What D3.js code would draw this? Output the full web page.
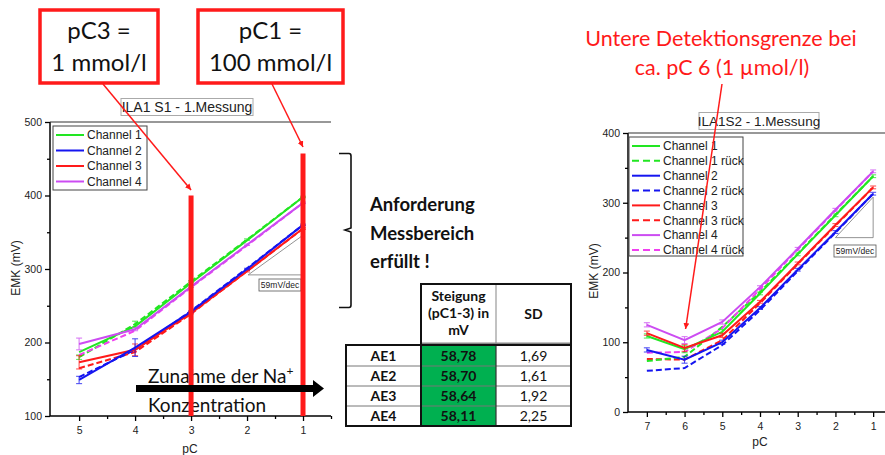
<!DOCTYPE html>
<html><head><meta charset="utf-8">
<script src="https://cdn.jsdelivr.net/npm/d3@7"></script>
<style>body{margin:0;background:#fff} svg{display:block}</style>
</head><body>
<script>
// ---------- Messung S1 (pC 5 .. 1) ----------
const s1PC = [5, 4, 3, 2, 1];
const s1Ch1  = [187, 222, 281, 339, 398];
const s1Ch1r = [180, 225, 283, 340, 398];
const s1Ch2  = [149, 193, 242, 300, 360];
const s1Ch2r = [153, 190, 243, 301, 360];
const s1Ch3  = [173, 190, 240, 297, 355];
const s1Ch3r = [165, 187, 239, 297, 355];
const s1Ch4  = [198, 218, 276, 333, 390];
const s1Ch4r = [183, 216, 275, 332, 390];
const s1Ch1Err = [3, 4, 1, 1, 1];
const s1Ch2Err = [5, 12, 1, 1, 1];
const s1Ch3Err = [9, 8, 1, 1, 1];
const s1Ch4Err = [8, 2, 1, 1, 1];
const s1XTicks = [5, 4, 3, 2, 1];
const s1YTicks = [100, 200, 300, 400, 500];

// ---------- Messung S2 (pC 7 .. 1) ----------
const s2PC = [7, 6, 5, 4, 3, 2, 1];
const s2Ch1  = [109, 90, 115, 170, 226, 282, 338];
const s2Ch1r = [73, 79, 122, 172, 227, 283, 338];
const s2Ch2  = [89, 75, 100, 149, 204, 258, 313];
const s2Ch2r = [59, 63, 96, 146, 202, 257, 313];
const s2Ch3  = [113, 92, 110, 158, 213, 268, 322];
const s2Ch3r = [76, 75, 103, 156, 212, 267, 322];
const s2Ch4  = [125, 103, 129, 179, 234, 290, 345];
const s2Ch4r = [85, 86, 120, 176, 233, 289, 345];
const s2Err = [3, 5, 3, 2, 2, 2, 2];
const s2XTicks = [7, 6, 5, 4, 3, 2, 1];
const s2YTicks = [0, 100, 200, 300, 400];

// ---------- Tabelle ----------
const tabRows = ["AE1", "AE2", "AE3", "AE4"];
const tabSlope = ["58,78", "58,70", "58,64", "58,11"];
const tabSD = ["1,69", "1,61", "1,92", "2,25"];

const ARIAL = "'Liberation Sans', Arial, sans-serif";
const CAL = "Lato, 'Open Sans', sans-serif";
const GREEN = "#22e622", BLUE = "#1515f0", RED = "#ff1a1a", VIO = "#cc4cf2", MAG = "#f040f0";

const svg = d3.select("body").append("svg").attr("width", 885).attr("height", 455)
  .style("background", "#fff");
svg.append("defs").append("marker").attr("id", "rarrow")
  .attr("viewBox", "0 0 10 10").attr("refX", 10).attr("refY", 5)
  .attr("markerWidth", 6).attr("markerHeight", 6).attr("markerUnits", "userSpaceOnUse")
  .attr("orient", "auto")
  .append("path").attr("d", "M0,0 L10,5 L0,10 Z").attr("fill", RED);
svg.select("defs").append("clipPath").attr("id", "clipR")
  .append("rect").attr("x", 620).attr("y", 100).attr("width", 265).attr("height", 340);

// Generic Origin-style panel
function panel(o) {
  const g = svg.append("g");
  const x = d3.scaleLinear().domain(o.xDom).range(o.xRange);
  const y = d3.scaleLinear().domain(o.yDom).range(o.yRange);
  const x0 = o.xRange[0], y0 = o.yRange[0], y1 = o.yRange[1];
  const xEnd = o.xEnd;
  const ax = d3.axisBottom(x).tickValues(o.xTicks).tickSize(5).tickSizeOuter(0).tickFormat(d3.format("d"));
  const axMinor = d3.axisBottom(x).tickValues(o.xMinor).tickSize(3).tickFormat("").tickSizeOuter(0);
  const ay = d3.axisLeft(y).tickValues(o.yTicks).tickSize(5).tickSizeOuter(0);
  const ayMinor = d3.axisLeft(y).tickValues(o.yMinor).tickSize(3).tickFormat("").tickSizeOuter(0);
  [ax, axMinor].forEach(a => {
    const gg = g.append("g").attr("transform", `translate(0,${y0})`).call(a);
    gg.select(".domain").remove();
    gg.selectAll("line").attr("stroke", "#000").attr("stroke-width", 1.3);
    gg.selectAll("text").attr("font-family", ARIAL).attr("font-size", 10.5).attr("fill", "#222").attr("dy", "0.95em");
  });
  [ay, ayMinor].forEach(a => {
    const gg = g.append("g").attr("transform", `translate(${x0},0)`).call(a);
    gg.select(".domain").remove();
    gg.selectAll("line").attr("stroke", "#000").attr("stroke-width", 1.3);
    gg.selectAll("text").attr("font-family", ARIAL).attr("font-size", 10.5).attr("fill", "#222");
  });
  g.append("line").attr("x1", x0).attr("x2", xEnd).attr("y1", y0).attr("y2", y0).attr("stroke", "#000").attr("stroke-width", 1.5);
  g.append("line").attr("x1", x0).attr("x2", x0).attr("y1", y0).attr("y2", y1).attr("stroke", "#000").attr("stroke-width", 1.5);
  g.append("line").attr("x1", x0).attr("x2", xEnd).attr("y1", y1).attr("y2", y1).attr("stroke", "#333").attr("stroke-width", 1.2);
  return { g, x, y };
}

function drawSeries(p, xs, ys, color, dashed, err) {
  const line = d3.line().x((d, i) => p.x(xs[i])).y(d => p.y(d));
  if (err) {
    const eb = p.g.append("g").attr("stroke", color).attr("stroke-width", 1).attr("opacity", 0.8);
    ys.forEach((v, i) => {
      const cx = p.x(xs[i]);
      eb.append("line").attr("x1", cx).attr("x2", cx).attr("y1", p.y(v - err[i])).attr("y2", p.y(v + err[i]));
      [v - err[i], v + err[i]].forEach(e => eb.append("line").attr("x1", cx - 3).attr("x2", cx + 3).attr("y1", p.y(e)).attr("y2", p.y(e)));
    });
  }
  p.g.append("path").datum(ys).attr("d", line).attr("fill", "none").attr("stroke", color)
    .attr("stroke-width", 2).attr("stroke-dasharray", dashed ? "6,3" : null);
}

function legend(g, x, y, w, h, step, items) {
  g.append("rect").attr("x", x).attr("y", y).attr("width", w).attr("height", h)
    .attr("fill", "#fff").attr("stroke", "#444").attr("stroke-width", 1);
  items.forEach((it, i) => {
    const cy = y + 9 + i * step;
    g.append("line").attr("x1", x + 3).attr("x2", x + 31).attr("y1", cy).attr("y2", cy)
      .attr("stroke", it.c).attr("stroke-width", 2).attr("stroke-dasharray", it.d ? "7,4" : null);
    g.append("text").attr("x", x + 34).attr("y", cy + 4.3).text(it.t)
      .attr("font-family", ARIAL).attr("font-size", 12).attr("fill", "#222");
  });
}

function titleBox(g, cx, cy, txt, w, fs) {
  g.append("rect").attr("x", cx - w / 2).attr("y", cy - 8.5).attr("width", w).attr("height", 17)
    .attr("fill", "#fff").attr("stroke", "#aaa").attr("stroke-width", 1);
  g.append("text").attr("x", cx).attr("y", cy + 5).attr("text-anchor", "middle").text(txt)
    .attr("font-family", ARIAL).attr("font-size", fs).attr("fill", "#222");
}

function slopeMark(p, xa, xb, ya, yb, lx, ly) {
  p.g.append("path").attr("d", `M${p.x(xa)},${p.y(ya)} L${p.x(xb)},${p.y(ya)} L${p.x(xb)},${p.y(yb)} Z`)
    .attr("fill", "none").attr("stroke", "#777").attr("stroke-width", 0.8);
  p.g.append("rect").attr("x", lx).attr("y", ly).attr("width", 42).attr("height", 12)
    .attr("fill", "#fff").attr("stroke", "#555").attr("stroke-width", 0.8);
  p.g.append("text").attr("x", lx + 21).attr("y", ly + 9).attr("text-anchor", "middle")
    .text("59mV/dec").attr("font-family", ARIAL).attr("font-size", 8.5).attr("fill", "#222");
}

// ===== Panel S1 =====
const p1 = panel({
  xDom: [5.52, 0.5], xRange: [50, 331], xEnd: 331,
  yDom: [100, 500], yRange: [416, 122],
  xTicks: s1XTicks, xMinor: [4.5, 3.5, 2.5, 1.5, 0.5],
  yTicks: s1YTicks, yMinor: [150, 250, 350, 450]
});
slopeMark(p1, 1.98, 1.0, 292, 346, 259, 279);
drawSeries(p1, s1PC, s1Ch1r, GREEN, true, s1Ch1Err);
drawSeries(p1, s1PC, s1Ch4r, MAG, true, null);
drawSeries(p1, s1PC, s1Ch3r, RED, true, null);
drawSeries(p1, s1PC, s1Ch2r, BLUE, true, null);
drawSeries(p1, s1PC, s1Ch1, GREEN, false, null);
drawSeries(p1, s1PC, s1Ch4, VIO, false, s1Ch4Err);
drawSeries(p1, s1PC, s1Ch3, RED, false, s1Ch3Err);
drawSeries(p1, s1PC, s1Ch2, BLUE, false, s1Ch2Err);
p1.g.append("text").attr("transform", "translate(20,268) rotate(-90)").attr("text-anchor", "middle")
  .text("EMK (mV)").attr("font-family", ARIAL).attr("font-size", 12).attr("fill", "#222");
p1.g.append("text").attr("x", 190).attr("y", 453).attr("text-anchor", "middle")
  .text("pC").attr("font-family", ARIAL).attr("font-size", 12).attr("fill", "#222");
legend(p1.g, 53, 126, 94, 64, 15.5, [
  { t: "Channel 1", c: GREEN }, { t: "Channel 2", c: BLUE },
  { t: "Channel 3", c: RED }, { t: "Channel 4", c: VIO }]);
titleBox(p1.g, 187, 107, "ILA1 S1 - 1.Messung", 132, 14);

// Text "Zunahme der Na+ Konzentration" (unter den Markierungsbalken)
const zt = svg.append("text").attr("x", 148).attr("y", 383).attr("font-family", CAL).attr("font-size", 19).attr("fill", "#111");
zt.append("tspan").text("Zunahme der Na");
zt.append("tspan").text("+").attr("font-size", 12).attr("dy", -8);
svg.append("text").attr("x", 148).attr("y", 412).attr("font-family", CAL).attr("font-size", 19).attr("fill", "#111")
  .text("Konzentration");

// Markierungen pC3 / pC1
svg.append("line").attr("x1", p1.x(3)).attr("x2", p1.x(3)).attr("y1", p1.y(400)).attr("y2", 416)
  .attr("stroke", RED).attr("stroke-width", 5);
svg.append("line").attr("x1", p1.x(1)).attr("x2", p1.x(1)).attr("y1", p1.y(457)).attr("y2", 416)
  .attr("stroke", RED).attr("stroke-width", 5);

// Konzentrationspfeil
svg.append("path").attr("d", "M136,385 L313,385 L313,380 L324,388.5 L313,397 L313,392 L136,392 Z").attr("fill", "#000");

// ===== Panel S2 =====
const p2 = panel({
  xDom: [7.5, 0.5], xRange: [628, 892], xEnd: 885,
  yDom: [0, 400], yRange: [412, 133],
  xTicks: s2XTicks, xMinor: [6.5, 5.5, 4.5, 3.5, 2.5, 1.5],
  yTicks: s2YTicks, yMinor: [50, 150, 250, 350]
});
slopeMark(p2, 2.0, 1.0, 250, 308, 834, 245);
const s2g = p2.g.append("g").attr("clip-path", "url(#clipR)");
const p2c = { g: s2g, x: p2.x, y: p2.y };
drawSeries(p2c, s2PC, s2Ch2r, BLUE, true, null);
drawSeries(p2c, s2PC, s2Ch3r, RED, true, null);
drawSeries(p2c, s2PC, s2Ch1r, GREEN, true, null);
drawSeries(p2c, s2PC, s2Ch4r, MAG, true, null);
drawSeries(p2c, s2PC, s2Ch2, BLUE, false, s2Err);
drawSeries(p2c, s2PC, s2Ch1, GREEN, false, s2Err);
drawSeries(p2c, s2PC, s2Ch3, RED, false, s2Err);
drawSeries(p2c, s2PC, s2Ch4, VIO, false, s2Err);
p2.g.append("text").attr("transform", "translate(598,271) rotate(-90)").attr("text-anchor", "middle")
  .text("EMK (mV)").attr("font-family", ARIAL).attr("font-size", 12).attr("fill", "#222");
p2.g.append("text").attr("x", 760).attr("y", 446).attr("text-anchor", "middle")
  .text("pC").attr("font-family", ARIAL).attr("font-size", 12).attr("fill", "#222");
legend(p2.g, 629, 137, 114, 119, 14.85, [
  { t: "Channel 1", c: GREEN }, { t: "Channel 1 rück", c: GREEN, d: true },
  { t: "Channel 2", c: BLUE }, { t: "Channel 2 rück", c: BLUE, d: true },
  { t: "Channel 3", c: RED }, { t: "Channel 3 rück", c: RED, d: true },
  { t: "Channel 4", c: VIO }, { t: "Channel 4 rück", c: MAG, d: true }]);
titleBox(p2.g, 759, 121, "ILA1S2 - 1.Messung", 120, 13.5);

// ===== Annotationen =====
function redBox(x, w, l1, l2) {
  svg.append("rect").attr("x", x).attr("y", 10).attr("width", w).attr("height", 73)
    .attr("fill", "#fff").attr("stroke", RED).attr("stroke-width", 3.5);
  svg.append("text").attr("x", x + w / 2).attr("y", 39).attr("text-anchor", "middle").text(l1)
    .attr("font-family", CAL).attr("font-size", 24).attr("fill", "#111");
  svg.append("text").attr("x", x + w / 2).attr("y", 71).attr("text-anchor", "middle").text(l2)
    .attr("font-family", CAL).attr("font-size", 24).attr("fill", "#111");
}
redBox(40, 118, "pC3 =", "1 mmol/l");
redBox(198, 145, "pC1 =", "100 mmol/l");
svg.append("line").attr("x1", 103).attr("y1", 84).attr("x2", p1.x(3)).attr("y2", 190)
  .attr("stroke", RED).attr("stroke-width", 1.5).attr("marker-end", "url(#rarrow)");
svg.append("line").attr("x1", 272).attr("y1", 84).attr("x2", p1.x(1)).attr("y2", 147)
  .attr("stroke", RED).attr("stroke-width", 1.5).attr("marker-end", "url(#rarrow)");

svg.append("text").attr("x", 721).attr("y", 46).attr("text-anchor", "middle")
  .text("Untere Detektionsgrenze bei").attr("font-family", CAL).attr("font-size", 21.5).attr("fill", RED);
svg.append("text").attr("x", 722).attr("y", 75).attr("text-anchor", "middle")
  .text("ca. pC 6 (1 µmol/l)").attr("font-family", CAL).attr("font-size", 21.5).attr("fill", RED);
svg.append("line").attr("x1", 722).attr("y1", 84).attr("x2", p2.x(6) + 1).attr("y2", 329)
  .attr("stroke", RED).attr("stroke-width", 1.5).attr("marker-end", "url(#rarrow)");

// Klammer + Text
svg.append("path").attr("d", "M339,153.5 L349,153.5 Q351,153.5 351,156 L351,228 L345,230 L351,232 L351,305 Q351,307.5 349,307.5 L339,307.5")
  .attr("fill", "none").attr("stroke", "#111").attr("stroke-width", 1.6);
["Anforderung", "Messbereich", "erfüllt !"].forEach((t, i) =>
  svg.append("text").attr("x", 370).attr("y", 211 + i * 28.5).text(t)
    .attr("font-family", CAL).attr("font-weight", "bold").attr("font-size", 18.5).attr("fill", "#111"));

// Tabelle
const rowY = [345, 366, 386, 406, 426];
const tg = svg.append("g").attr("font-family", CAL).attr("font-size", 14).attr("fill", "#111");
tg.append("rect").attr("x", 421).attr("y", 284).attr("width", 150).attr("height", 61).attr("fill", "#fff");
tg.append("line").attr("x1", 496).attr("x2", 496).attr("y1", 284).attr("y2", 345).attr("stroke", "#999").attr("stroke-width", 1.2);
tg.append("line").attr("x1", 422).attr("x2", 570).attr("y1", 344).attr("y2", 344).attr("stroke", "#888").attr("stroke-width", 3);
tg.append("path").attr("d", "M421,344 L421,284 L571,284 L571,344").attr("fill", "none").attr("stroke", "#111").attr("stroke-width", 2);
["Steigung", "(pC1-3) in", "mV"].forEach((t, i) =>
  tg.append("text").attr("x", 458.5).attr("y", 301 + i * 17).attr("text-anchor", "middle").attr("font-weight", "bold").text(t));
tg.append("text").attr("x", 533.5).attr("y", 318.5).attr("text-anchor", "middle").attr("font-weight", "bold").text("SD");
tabRows.forEach((r, i) => {
  const y0 = rowY[i], h = rowY[i + 1] - rowY[i];
  tg.append("rect").attr("x", 421).attr("y", y0).attr("width", 75).attr("height", h).attr("fill", "#00b050");
  if (i > 0) tg.append("line").attr("x1", 346).attr("x2", 571).attr("y1", y0).attr("y2", y0).attr("stroke", "#777").attr("stroke-width", 1);
  const by = y0 + h / 2 + 5;
  tg.append("text").attr("x", 383.5).attr("y", by).attr("text-anchor", "middle").attr("font-weight", "bold").text(r);
  tg.append("text").attr("x", 458.5).attr("y", by).attr("text-anchor", "middle").attr("font-weight", "bold").text(tabSlope[i]);
  tg.append("text").attr("x", 533.5).attr("y", by).attr("text-anchor", "middle").text(tabSD[i]);
});
tg.append("line").attr("x1", 421).attr("x2", 421).attr("y1", 345).attr("y2", 426).attr("stroke", "#111").attr("stroke-width", 2);
tg.append("line").attr("x1", 496).attr("x2", 496).attr("y1", 345).attr("y2", 426).attr("stroke", "#333").attr("stroke-width", 1.2);
tg.append("rect").attr("x", 346).attr("y", 345).attr("width", 225).attr("height", 81).attr("fill", "none").attr("stroke", "#111").attr("stroke-width", 2);
</script>
</body></html>
